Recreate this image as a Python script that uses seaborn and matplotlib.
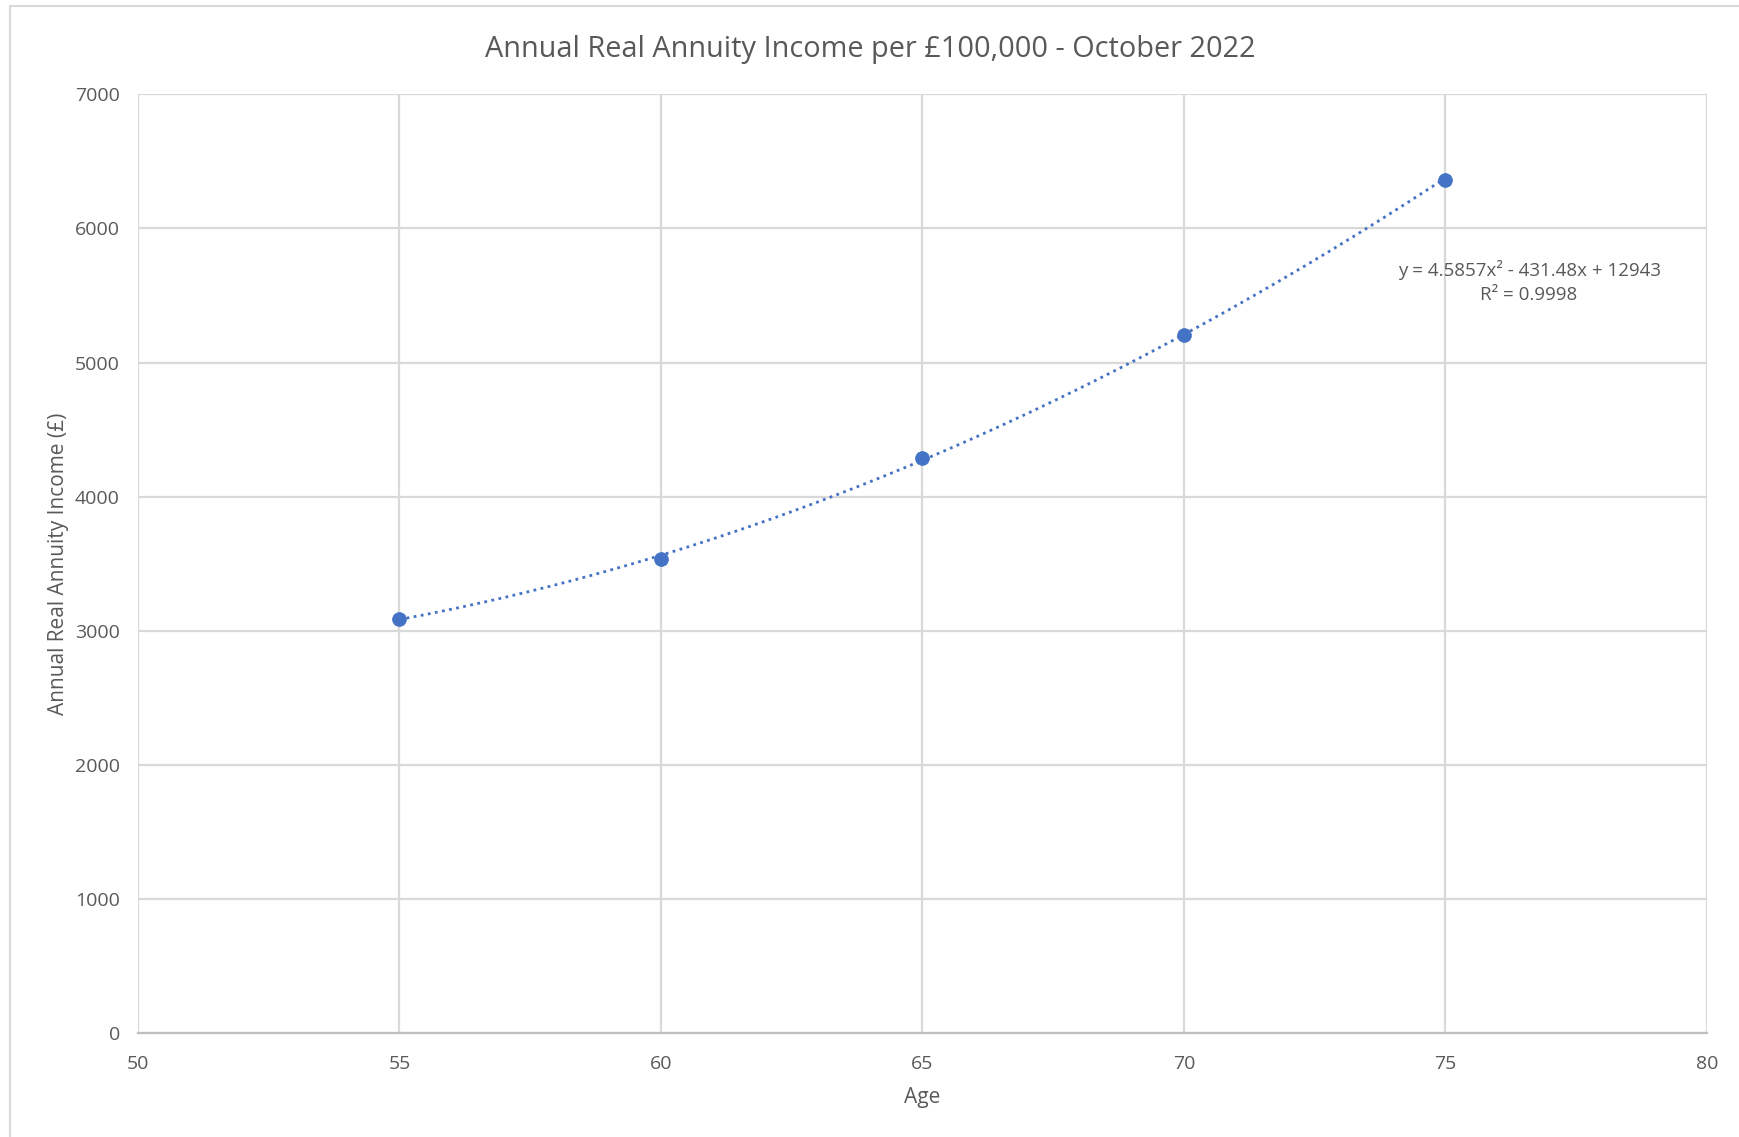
import numpy as np
import pandas as pd
import matplotlib
matplotlib.use("Agg")
import matplotlib.pyplot as plt
import seaborn as sns
from matplotlib.patches import Rectangle

# Annual real annuity income per £100,000 by age at purchase
ages = [55, 60, 65, 70, 75]
income = [3085, 3535, 4285, 5205, 6365]

# Polynomial (order 2) trendline coefficients shown on the chart
trend_coef = [4.5857, -431.48, 12943]
r_squared = 0.9998

x_ticks = [50, 55, 60, 65, 70, 75, 80]
y_ticks = [0, 1000, 2000, 3000, 4000, 5000, 6000, 7000]

title = "Annual Real Annuity Income per £100,000 - October 2022"
x_label = "Age"
y_label = "Annual Real Annuity Income (£)"

BLUE = "#4472C4"
TEXT = "#595959"
GRID = "#D9D9D9"

sns.set_theme(style="white")
plt.rcParams["font.family"] = ["Open Sans", "DejaVu Sans"]

fig = plt.figure(figsize=(17.4, 11.37), dpi=100)
ax = fig.add_axes([0.0793, 0.0915, 0.981 - 0.0793, 0.917 - 0.0915])

# chart border
fig.patches.append(Rectangle((10 / 1740, -0.01), 1.02, 1 - 6 / 1137 + 0.01,
                             transform=fig.transFigure, fill=False,
                             edgecolor=GRID, linewidth=1.5, zorder=0))

df = pd.DataFrame({"Age": ages, "Income": income})

# trendline from the stated polynomial
tx = np.linspace(min(ages), max(ages), 200)
trend = pd.DataFrame({"Age": tx, "Income": np.polyval(trend_coef, tx)})
sns.lineplot(data=trend, x="Age", y="Income", ax=ax, color=BLUE,
             linestyle=(0, (1, 1.6)), linewidth=2.0, zorder=3)

sns.scatterplot(data=df, x="Age", y="Income", ax=ax, color=BLUE, s=100,
                edgecolor=BLUE, linewidth=0.5, zorder=4)

ax.set_xlim(50, 80)
ax.set_ylim(0, 7000)
ax.set_xticks(x_ticks)
ax.set_yticks(y_ticks)
ax.grid(True, color=GRID, linewidth=1.6)
ax.set_axisbelow(True)
for side in ["top", "right", "left"]:
    ax.spines[side].set_visible(False)
ax.spines["bottom"].set_color("#BFBFBF")
ax.spines["bottom"].set_linewidth(1.6)
ax.tick_params(axis="both", length=0, labelsize=14, labelcolor=TEXT)
ax.tick_params(axis="x", pad=16)
ax.tick_params(axis="y", pad=13)

ax.set_xlabel(x_label, fontsize=15, color=TEXT, labelpad=10)
ax.set_ylabel(y_label, fontsize=15, color=TEXT, labelpad=4)

fig.text(0.5, 1 - 49 / 1137, title, ha="center", va="center",
         fontsize=20.8, color=TEXT)

eq = (f"y = {trend_coef[0]}x² - {abs(trend_coef[1])}x + {trend_coef[2]}\n"
      f"R² = {r_squared}")
ax.text(76.6, 5600, eq, ha="center", va="center", fontsize=13.5,
        color=TEXT, linespacing=1.4)

fig.savefig("out.png", dpi=100)
